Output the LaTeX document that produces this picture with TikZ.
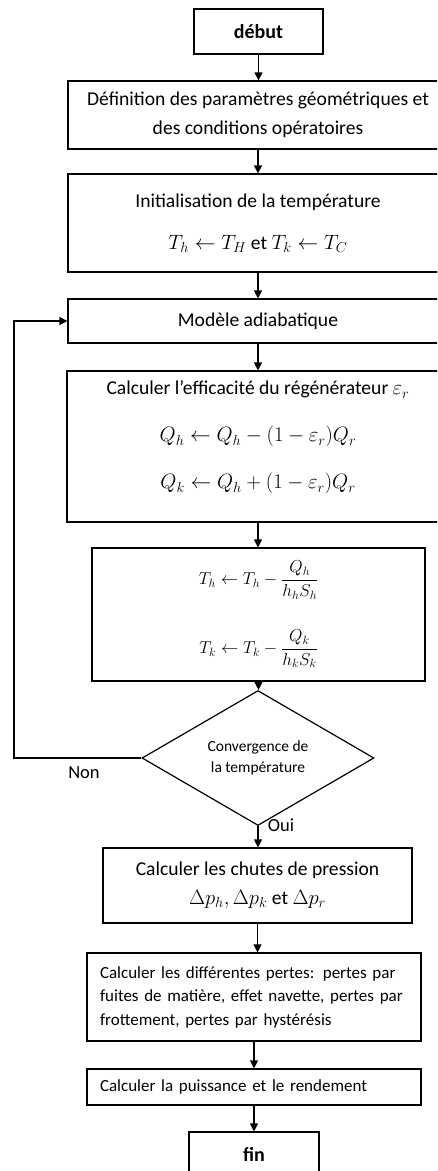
\documentclass[tikz,border=0pt]{standalone}
\usepackage{fontspec}
\setmainfont{Carlito}
\usepackage{amsmath}
\usetikzlibrary{arrows.meta,shapes.geometric,calc}

\tikzset{
  bloc/.style={draw, line width=1.2pt, inner sep=0pt, align=center,
    font=\fontsize{19.6}{29}\selectfont},
  titre/.style={bloc, font=\bfseries\fontsize{20}{22}\selectfont},
  liste/.style={bloc, align=left, text width=308pt, inner xsep=13pt,
    font=\fontsize{17}{23.5}\selectfont},
  decision/.style={draw, diamond, line width=1.2pt, inner sep=0pt,
    minimum width=232pt, minimum height=101pt, align=center,
    font=\fontsize{15.5}{21}\selectfont},
  etiquette/.style={font=\fontsize{18.5}{20}\selectfont, inner sep=0pt},
  fleche/.style={line width=1.2pt, -{Triangle[length=8pt,width=8pt]}}
}

\begin{document}
\begin{tikzpicture}[x=1pt,y=-1pt]
\useasboundingbox (0,0) rectangle (437,1171);
\clip (0,0) rectangle (437,1171);
% blocs de l'organigramme
\node[titre, minimum width=129pt, minimum height=45pt] (debut) at (258.5,31.5) {début};
\node[bloc, minimum width=380pt, minimum height=68pt] (defin) at (258,115)
  {Définition des paramètres géométriques et\\des conditions opératoires};
\node[bloc, minimum width=380pt, minimum height=98pt] (init) at (258,223)
  {Initialisation de la température\\[13pt]$T_h \leftarrow T_H$ et $T_k \leftarrow T_C$};
\node[bloc, minimum width=380pt, minimum height=44pt] (modele) at (258,321) {Modèle adiabatique};
\node[bloc, minimum width=382pt, minimum height=151pt, text depth=23pt] (effic) at (258,446.5)
  {Calculer l’efficacité du régénérateur $\varepsilon_r$\\[18pt]
   $Q_h \leftarrow Q_h-(1-\varepsilon_r)Q_r$\\[18pt]
   $Q_k \leftarrow Q_h+(1-\varepsilon_r)Q_r$};
\node[bloc, minimum width=333pt, minimum height=133pt, font=\fontsize{17.5}{29}\selectfont]
  (tbox) at (258.5,614.5)
  {$T_h \leftarrow T_h-\dfrac{Q_h}{h_hS_h}$\\[30pt]
   $T_k \leftarrow T_k-\dfrac{Q_k}{h_kS_k}$};
\node[decision] (conv) at (258,758) {Convergence de\\la température};
\node[bloc, minimum width=309pt, minimum height=75pt] (chutes) at (257.5,885.5)
  {Calculer les chutes de pression\\$\Delta p_h, \Delta p_k$ et $\Delta p_r$};
\node[liste, minimum height=88pt] (pertes) at (254,997)
  {Calculer les différentes pertes: pertes par\\fuites de matière, effet navette, pertes par\\frottement, pertes par hystérésis};
\node[liste, minimum height=36pt] (puiss) at (254,1087) {Calculer la puissance et le rendement};
\node[titre, minimum width=130pt, minimum height=45pt] (fin) at (254,1154.5) {fin};
% liaisons
\foreach \a/\b in {debut/defin, defin/init, init/modele, modele/effic, effic/tbox,
  tbox/conv, conv/chutes, chutes/pertes, pertes/puiss, puiss/fin}
  \draw[fleche] (\a.south) -- (\a.south |- \b.north);
\coordinate (retour) at (14,758);
\draw[fleche] (conv.west) -- (retour) |- (modele.west);
\node[etiquette] (non) at (84,773) {Non};
\node[etiquette] (oui) at (281,825) {Oui};
\end{tikzpicture}
\end{document}
